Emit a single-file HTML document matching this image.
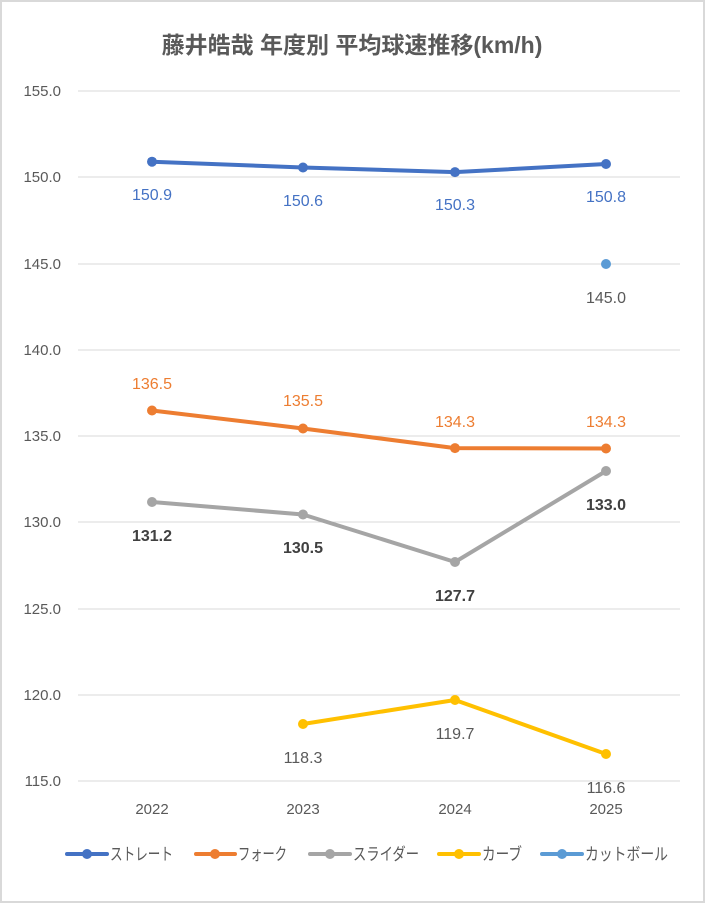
<!DOCTYPE html>
<html><head><meta charset="utf-8"><style>
html,body{margin:0;padding:0;background:#fff}
svg{display:block}
text{font-family:"Liberation Sans","Noto Sans CJK JP",sans-serif}
</style></head><body>
<svg width="705" height="903" viewBox="0 0 705 903" xmlns="http://www.w3.org/2000/svg">
<rect x="1" y="1" width="703" height="901" fill="#fff" stroke="#d9d9d9" stroke-width="2"/>
<text x="352" y="53" text-anchor="middle" font-size="23" font-weight="bold" fill="#595959">藤井皓哉 年度別 平均球速推移(km/h)</text>
<g stroke="#d9d9d9" stroke-width="1">
<line x1="78" x2="680" y1="91" y2="91"/><line x1="78" x2="680" y1="177" y2="177"/>
<line x1="78" x2="680" y1="264" y2="264"/><line x1="78" x2="680" y1="350" y2="350"/>
<line x1="78" x2="680" y1="436" y2="436"/><line x1="78" x2="680" y1="522" y2="522"/>
<line x1="78" x2="680" y1="609" y2="609"/><line x1="78" x2="680" y1="695" y2="695"/>
<line x1="78" x2="680" y1="781" y2="781"/>
</g>
<g font-size="15" fill="#595959" text-anchor="end">
<text x="61" y="96">155.0</text><text x="61" y="182">150.0</text><text x="61" y="269">145.0</text>
<text x="61" y="355">140.0</text><text x="61" y="441">135.0</text><text x="61" y="527">130.0</text>
<text x="61" y="614">125.0</text><text x="61" y="700">120.0</text><text x="61" y="786">115.0</text>
</g>
<g font-size="15" fill="#595959" text-anchor="middle">
<text x="152" y="814">2022</text><text x="303" y="814">2023</text><text x="455" y="814">2024</text><text x="606" y="814">2025</text>
</g>
<g fill="none" stroke-width="4" stroke-linejoin="round" stroke-linecap="round">
<polyline stroke="#4472C4" points="152,161.7 303,167.5 455,172.1 606,164"/>
<polyline stroke="#ED7D31" points="152,410.5 303,428.5 455,448.1 606,448.5"/>
<polyline stroke="#A5A5A5" points="152,502 303,514.5 455,562 606,471"/>
<polyline stroke="#FFC000" points="303,724 455,700 606,754"/>
</g>
<g fill="#4472C4"><circle cx="152" cy="161.7" r="5"/><circle cx="303" cy="167.5" r="5"/><circle cx="455" cy="172.1" r="5"/><circle cx="606" cy="164" r="5"/></g>
<g fill="#ED7D31"><circle cx="152" cy="410.5" r="5"/><circle cx="303" cy="428.5" r="5"/><circle cx="455" cy="448.1" r="5"/><circle cx="606" cy="448.5" r="5"/></g>
<g fill="#A5A5A5"><circle cx="152" cy="502" r="5"/><circle cx="303" cy="514.5" r="5"/><circle cx="455" cy="562" r="5"/><circle cx="606" cy="471" r="5"/></g>
<g fill="#FFC000"><circle cx="303" cy="724" r="5"/><circle cx="455" cy="700" r="5"/><circle cx="606" cy="754" r="5"/></g>
<circle cx="606" cy="264" r="5" fill="#5B9BD5"/>
<g font-size="16" text-anchor="middle">
<g fill="#4472C4"><text x="152" y="200">150.9</text><text x="303" y="206">150.6</text><text x="455" y="210">150.3</text><text x="606" y="202">150.8</text></g>
<g fill="#ED7D31"><text x="152" y="389">136.5</text><text x="303" y="406">135.5</text><text x="455" y="427">134.3</text><text x="606" y="427">134.3</text></g>
<g fill="#404040" font-weight="bold"><text x="152" y="541">131.2</text><text x="303" y="553">130.5</text><text x="455" y="601">127.7</text><text x="606" y="510">133.0</text></g>
<g fill="#595959"><text x="303" y="763">118.3</text><text x="455" y="739">119.7</text><text x="606" y="793">116.6</text><text x="606" y="303">145.0</text></g>
</g>
<g stroke-width="4" stroke-linecap="round">
<line x1="67" x2="107" y1="854" y2="854" stroke="#4472C4"/><circle cx="87" cy="854" r="5" fill="#4472C4"/>
<line x1="196" x2="235" y1="854" y2="854" stroke="#ED7D31"/><circle cx="215" cy="854" r="5" fill="#ED7D31"/>
<line x1="310" x2="350" y1="854" y2="854" stroke="#A5A5A5"/><circle cx="330" cy="854" r="5" fill="#A5A5A5"/>
<line x1="439" x2="479" y1="854" y2="854" stroke="#FFC000"/><circle cx="459" cy="854" r="5" fill="#FFC000"/>
<line x1="542" x2="582" y1="854" y2="854" stroke="#5B9BD5"/><circle cx="562" cy="854" r="5" fill="#5B9BD5"/>
</g>
<g font-size="17" fill="#595959">
<text x="110" y="860" textLength="63" lengthAdjust="spacingAndGlyphs">ストレート</text>
<text x="238" y="860" textLength="49" lengthAdjust="spacingAndGlyphs">フォーク</text>
<text x="353" y="860" textLength="66" lengthAdjust="spacingAndGlyphs">スライダー</text>
<text x="482" y="860" textLength="40" lengthAdjust="spacingAndGlyphs">カーブ</text>
<text x="585" y="860" textLength="83" lengthAdjust="spacingAndGlyphs">カットボール</text>
</g>
</svg>
</body></html>
